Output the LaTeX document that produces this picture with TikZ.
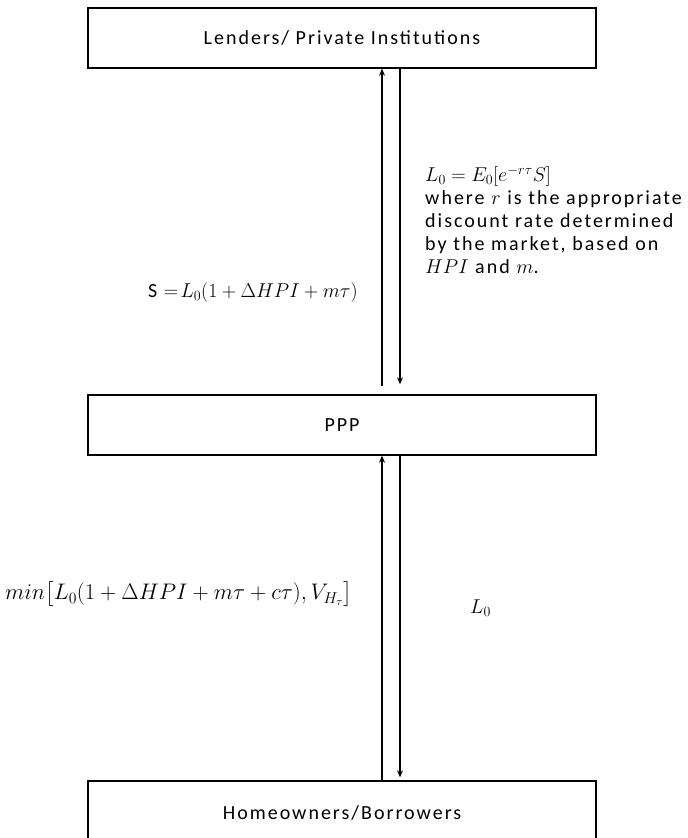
\RequirePackage{fix-cm}
\documentclass[tikz,border=0pt]{standalone}
\usepackage{amsmath}
\usepackage{fontspec}
\setmainfont{Carlito}[LetterSpace=10]
\usetikzlibrary{arrows.meta, positioning}

\tikzset{
  party/.style={draw=black, line width=1.4pt, minimum width=508pt, inner sep=0pt},
  flow/.style={-{Stealth[length=7pt, width=6pt]}, line width=1.2pt},
  lbl/.style={font=\fontsize{20}{23}\selectfont, inner sep=0pt}
}

\begin{document}
\begin{tikzpicture}[x=1pt, y=-1pt, font=\fontsize{20}{23}\selectfont]

\useasboundingbox (0,0) rectangle (688,838);
\clip (0,0) rectangle (688,838);

% --- the three parties ---
\node[party, minimum height=60pt] (lenders) at (342,38) {Lenders/ Private Institutions};
\node[party, minimum height=60pt] (ppp) at (342,425) {PPP};
\node[party, minimum height=64pt] (owners) at (342,813) {Homeowners/Borrowers};

% --- upper pair of arrows ---
\draw[flow] ([xshift=40pt, yshift=8pt]ppp.north) -- ([xshift=40pt]lenders.south);
\draw[flow] ([xshift=58pt]lenders.south) -- ([xshift=58pt, yshift=10pt]ppp.north);

% --- lower pair of arrows ---
\draw[flow] ([xshift=40pt]owners.north) -- ([xshift=40pt]ppp.south);
\draw[flow] ([xshift=58pt]ppp.south) -- ([xshift=58pt, yshift=3pt]owners.north);

% --- labels ---
\node[lbl, anchor=west] (payS) at (148,292) {S $=\!L_0(1+\Delta HPI+m\tau)$};
\node[lbl, anchor=north west, text width=263pt, align=left] (priceL) at (425,166)
  {$L_0=E_0[e^{-r\tau}S]$\\
   where $r$ is the appropriate\\
   discount rate determined\\
   by the market, based on\\
   $HPI$ and $m$.};
\node[lbl, anchor=west, font=\fontsize{22.5}{26}\selectfont] (payMin) at (5,594)
  {$min\bigl[L_0(1+\Delta HPI+m\tau+c\tau),V_{H_\tau}\bigr]$};
\node[lbl, anchor=west] (loanL) at (470,608) {$L_0$};

\end{tikzpicture}
\end{document}
